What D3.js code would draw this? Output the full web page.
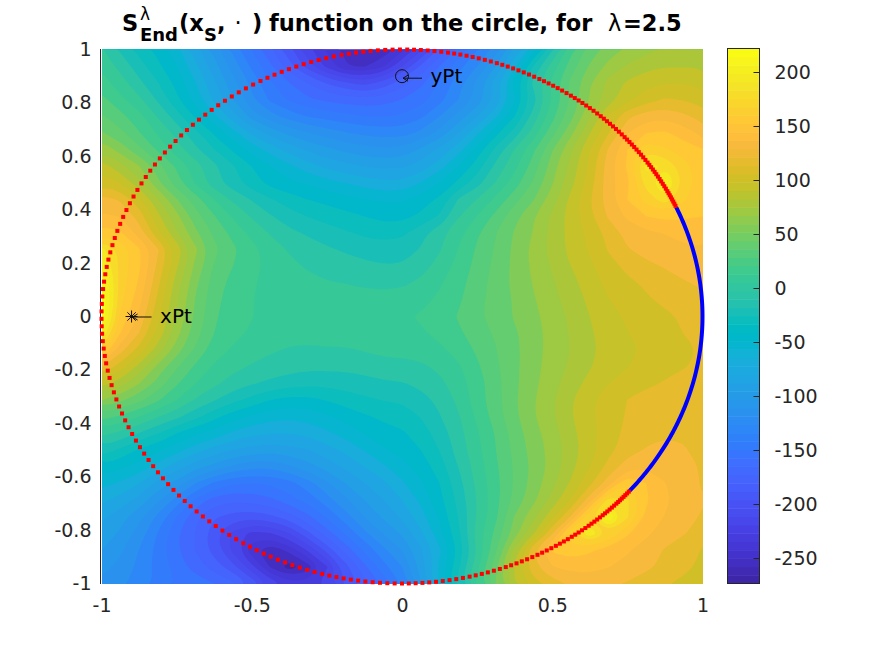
<!DOCTYPE html>
<html>
<head>
<meta charset="utf-8">
<script src="https://cdn.jsdelivr.net/npm/d3@7"></script>
<style>
  body { margin: 0; background: #fff; }
  text { font-family: "DejaVu Sans", sans-serif; }
</style>
</head>
<body>
<svg id="chart" width="875" height="656"></svg>
<script>
// tick labels
var xTicks = [-1, -0.5, 0, 0.5, 1];
var yTicks = [-1, -0.8, -0.6, -0.4, -0.2, 0, 0.2, 0.4, 0.6, 0.8, 1];
var barTicks = [-250, -200, -150, -100, -50, 0, 50, 100, 150, 200];
var barRange = [-273.6, 222];

// grid positions of the sampled field
var gridX = [-1, -0.9375, -0.875, -0.8125, -0.75, -0.6875, -0.625, -0.5625, -0.5, -0.4375, -0.375, -0.3125, -0.25, -0.1875, -0.125, -0.0625, 0,
    0.0625, 0.125, 0.1875, 0.25, 0.3125, 0.375, 0.4375, 0.5, 0.5625, 0.625, 0.6875, 0.75, 0.8125, 0.875, 0.9375, 1];
var gridY = gridX.slice().reverse();

// field values, top row first (y=1 down to y=-1)
var fieldRows = [
    [0,-15,-30,-42,-58,-82,-105,-128,-150,-172,-195,-220,-238,-252,-258,-258,-240,-215,-185,-160,-138,-118,-85,-55,-15,20,42,55,63,70,75,76,76],
    [10,-5,-20,-35,-50,-72,-95,-118,-140,-160,-182,-205,-228,-248,-250,-238,-212,-185,-162,-142,-125,-100,-65,-25,5,30,50,65,75,82,85,85,85],
    [17,5,-10,-25,-42,-62,-85,-108,-128,-148,-162,-175,-188,-198,-205,-195,-180,-165,-148,-130,-108,-80,-45,-10,15,40,60,78,88,95,98,98,95],
    [28,15,2,-15,-35,-55,-78,-100,-122,-140,-152,-160,-165,-168,-170,-168,-162,-155,-142,-125,-108,-85,-52,-18,12,38,62,80,95,105,112,110,106],
    [38,28,16,-2,-20,-40,-60,-82,-105,-120,-130,-138,-142,-146,-150,-150,-148,-140,-125,-108,-88,-65,-38,-8,20,45,72,100,120,130,132,126,118],
    [50,40,25,10,-5,-22,-40,-58,-78,-92,-104,-112,-118,-124,-128,-130,-130,-122,-108,-88,-65,-42,-20,5,32,58,85,110,135,148,150,142,132],
    [72,56,40,22,5,-10,-25,-40,-55,-68,-80,-90,-97,-103,-108,-110,-108,-98,-85,-68,-45,-22,0,22,48,72,98,125,148,170,162,155,148],
    [92,78,62,42,22,5,-10,-24,-38,-50,-60,-70,-78,-84,-88,-90,-90,-82,-68,-50,-32,-10,8,30,55,78,102,130,150,190,185,165,152],
    [108,98,78,52,30,10,-8,-20,-32,-42,-48,-52,-58,-63,-68,-72,-72,-62,-50,-35,-18,0,18,38,60,82,105,130,145,178,205,170,152],
    [128,122,102,75,50,30,12,-3,-14,-24,-32,-38,-42,-46,-50,-52,-52,-45,-35,-12,0,15,32,48,68,90,110,130,148,165,180,162,150],
    [138,135,118,90,65,42,25,10,-2,-12,-20,-26,-30,-34,-38,-42,-42,-35,-24,-2,12,28,45,60,76,92,108,125,138,148,152,150,148],
    [155,150,130,102,75,52,34,20,8,-2,-10,-15,-20,-24,-28,-30,-28,-18,-5,8,22,36,50,62,78,90,102,115,128,133,136,138,140],
    [190,170,150,125,95,64,40,27,16,6,-2,-7,-11,-15,-18,-20,-20,-12,-2,12,26,38,52,65,78,90,100,112,122,128,132,134,135],
    [205,168,150,120,88,58,35,24,15,8,2,-2,-5,-7,-10,-12,-12,-6,4,16,28,40,52,64,75,86,96,106,114,120,124,128,130],
    [218,168,146,114,80,52,30,20,13,8,4,2,0,-1,-3,-4,-3,2,10,20,30,42,52,62,72,82,92,102,108,113,118,122,125],
    [222,165,140,108,75,48,28,18,12,8,5,4,4,4,4,4,5,8,14,22,32,42,50,60,70,79,89,98,104,109,114,118,121],
    [222,158,133,102,72,46,26,17,12,9,7,6,7,8,9,9,10,13,18,25,34,42,50,58,67,76,86,95,100,104,108,113,117],
    [200,148,123,95,66,42,24,15,10,6,4,4,5,5,6,7,8,10,15,22,30,38,47,56,66,75,84,93,98,102,106,111,114],
    [165,128,106,80,55,34,18,10,5,1,-2,-3,-2,-2,0,3,3,5,9,16,26,36,46,56,66,74,83,91,96,100,104,108,112],
    [125,105,82,58,38,22,10,3,-2,-6,-8,-10,-10,-10,-8,-6,-5,-3,2,10,22,34,46,57,67,76,85,93,98,102,106,110,114],
    [92,80,62,44,26,12,2,-6,-12,-16,-20,-22,-22,-20,-18,-15,-14,-10,-4,6,18,32,46,58,69,80,90,98,104,108,112,116,118],
    [62,52,40,26,12,-2,-12,-22,-30,-38,-42,-42,-37,-32,-28,-25,-24,-18,-10,2,18,32,47,60,72,85,96,105,111,116,120,120,120],
    [30,22,12,0,-10,-22,-34,-45,-52,-58,-60,-58,-52,-46,-40,-35,-32,-25,-14,-2,14,30,46,60,72,85,96,105,112,117,120,121,120],
    [3,-4,-14,-25,-38,-48,-55,-65,-72,-75,-75,-72,-65,-58,-50,-44,-40,-32,-20,-6,10,25,42,56,68,82,94,105,114,120,122,122,120],
    [-18,-28,-40,-48,-58,-70,-80,-88,-92,-95,-92,-88,-80,-72,-62,-52,-46,-38,-25,-8,8,24,40,54,66,80,94,107,118,124,126,124,120],
    [-40,-48,-55,-68,-82,-95,-105,-115,-122,-122,-115,-105,-95,-85,-75,-65,-55,-45,-32,-13,5,22,38,52,66,82,98,115,130,134,132,128,122],
    [-58,-65,-75,-92,-105,-125,-140,-148,-150,-148,-142,-130,-115,-100,-88,-78,-65,-52,-38,-18,2,20,38,54,70,88,108,130,160,148,136,128,122],
    [-72,-80,-92,-110,-130,-152,-168,-172,-170,-165,-155,-145,-130,-115,-100,-88,-75,-60,-42,-22,0,20,40,58,78,100,130,178,175,150,138,130,124],
    [-85,-95,-108,-128,-150,-172,-185,-192,-195,-190,-180,-165,-148,-130,-112,-98,-85,-68,-48,-25,0,22,50,70,95,125,172,210,175,145,135,128,122],
    [-92,-102,-118,-138,-160,-175,-195,-215,-228,-225,-212,-190,-168,-148,-128,-112,-98,-78,-55,-28,5,28,55,85,122,170,195,172,150,138,130,124,118],
    [-100,-110,-125,-142,-160,-175,-192,-215,-245,-258,-245,-222,-195,-170,-148,-128,-112,-90,-65,-35,0,35,78,122,150,155,150,143,137,130,122,116,110],
    [-108,-116,-128,-142,-155,-168,-180,-195,-220,-250,-268,-255,-225,-192,-165,-142,-125,-95,-60,-28,8,45,88,120,135,140,140,136,132,126,120,114,108],
    [-115,-122,-130,-140,-150,-155,-162,-172,-190,-215,-232,-232,-218,-197,-178,-158,-135,-100,-60,-20,15,50,85,105,118,125,128,126,122,116,112,108,104]
];

// angles (degrees) of the red markers on the circle, and the ends of the blue arc
var redAngles = [24.5,25,25.5,26,26.5,27,27.5,28,28.6,29.2,29.8,30.4,31,31.6,32.2,32.8,33.4,34,34.6,35.2,35.9,36.6,37.3,38,38.7,39.4,40.1,40.8,41.5,42.2,43,43.8,44.6,45.4,46.2,47,47.8,48.6,49.5,50.4,51.3,52.2,53.1,54,54.9,55.8,56.8,57.8,58.8,59.8,60.8,61.8,62.8,63.9,65,66.1,67.2,68.3,69.4,70.5,71.6,72.8,74,75.2,76.4,77.6,78.8,80,81.2,82.5,83.8,85.1,86.4,87.7,89,90.4,
    91.8,93.2,94.6,96,97.4,98.8,100.2,101.6,103.1,104.6,106.1,107.6,109.1,110.6,112.1,113.6,115.1,116.6,118.1,119.7,121.3,122.9,124.5,126.1,127.7,129.3,130.9,132.5,134.1,135.7,137.3,138.9,140.5,142.1,143.7,145.3,146.9,148.5,150.1,151.7,153.3,154.9,156.5,158.1,159.7,161.3,162.9,164.5,166.1,167.7,169.3,170.9,172.5,174.1,175.7,177.3,178.9,
    180.5,182.1,183.7,185.3,186.9,188.5,190.1,191.7,193.3,194.9,196.5,198.1,199.7,201.3,202.9,204.5,206.1,207.7,209.3,210.9,212.5,214.1,215.7,217.3,218.9,220.5,222.1,223.7,225.3,226.9,228.5,230.1,231.7,233.3,234.9,236.5,238.1,239.6,241.1,242.6,244.1,245.6,247.1,248.6,250.1,251.6,253.1,254.6,256,257.4,258.8,260.2,261.6,263,264.4,265.8,267.2,268.6,270,
    271.3,272.6,273.9,275.2,276.5,277.8,279.1,280.4,281.7,283,284.2,285.4,286.6,287.8,289,290.2,291.3,292.4,293.5,294.6,295.7,296.8,297.8,298.8,299.8,300.8,301.7,302.6,303.5,304.4,305.2,306,306.8,307.6,308.4,309.1,309.8,310.5,311.2,311.9,312.5,313.1,313.7,314.3,314.9,315.5,316,316.5,317,317.5,318,318.5,319];
var blueArc = [-40.8, 24.5];
var xPt = [-0.9, 0];
var yPt = [0, 0.9];

// parula, 64 entries
var parula = [[.2422,.1504,.6603],[.2504,.1650,.7076],[.2578,.1818,.7511],[.2647,.1978,.7952],[.2706,.2147,.8364],[.2751,.2342,.8710],[.2783,.2559,.8991],[.2803,.2782,.9221],
    [.2813,.3006,.9414],[.2810,.3228,.9579],[.2795,.3447,.9717],[.2760,.3667,.9829],[.2699,.3892,.9906],[.2602,.4123,.9952],[.2440,.4358,.9988],[.2206,.4603,.9973],
    [.1963,.4847,.9892],[.1834,.5074,.9798],[.1786,.5289,.9682],[.1764,.5499,.9520],[.1687,.5703,.9359],[.1540,.5902,.9218],[.1460,.6091,.9079],[.1380,.6276,.8973],
    [.1248,.6459,.8883],[.1113,.6635,.8763],[.0952,.6798,.8598],[.0689,.6948,.8394],[.0297,.7082,.8163],[.0036,.7203,.7917],[.0067,.7312,.7660],[.0433,.7411,.7394],
    [.0964,.7500,.7120],[.1408,.7584,.6842],[.1717,.7670,.6554],[.1938,.7758,.6251],[.2161,.7843,.5923],[.2470,.7918,.5567],[.2906,.7973,.5188],[.3406,.8008,.4789],
    [.3909,.8029,.4354],[.4456,.8024,.3909],[.5044,.7993,.3480],[.5616,.7942,.3045],[.6174,.7876,.2612],[.6720,.7793,.2227],[.7242,.7698,.1910],[.7738,.7598,.1646],
    [.8203,.7498,.1535],[.8634,.7406,.1596],[.9035,.7330,.1774],[.9393,.7288,.2100],[.9728,.7298,.2394],[.9956,.7434,.2371],[.9970,.7659,.2199],[.9952,.7893,.2028],
    [.9892,.8136,.1885],[.9786,.8386,.1766],[.9676,.8639,.1643],[.9610,.8890,.1537],[.9597,.9135,.1423],[.9628,.9373,.1265],[.9691,.9606,.1064],[.9769,.9839,.0805]]
    .map(function (c) { return d3.rgb(c[0] * 255, c[1] * 255, c[2] * 255).formatHex(); });

var svg = d3.select("#chart");

// plot area
var left = 101.5, right = 702.5, top_ = 49.5, bottom = 583.5;
var x = d3.scaleLinear().domain([-1, 1]).range([left, right]);
var y = d3.scaleLinear().domain([-1, 1]).range([bottom, top_]);
var color = d3.scaleQuantize().domain(barRange).range(parula);

svg.append("defs").append("clipPath").attr("id", "plotClip")
    .append("rect")
    .attr("x", left + 0.5).attr("y", top_)
    .attr("width", right - left).attr("height", bottom - top_ + 0.5);

// contourf: one filled band per threshold, nested from low to high
var nx = gridX.length, ny = gridY.length;
var values = d3.merge(fieldRows);
var levelStep = 12.4;
var thresholds = d3.range(barRange[0], barRange[1], levelStep);
var contours = d3.contours().size([nx, ny]).thresholds(thresholds)(values);

var gx = d3.scaleLinear().domain([0.5, nx - 0.5]).range([x(gridX[0]), x(gridX[nx - 1])]);
var gy = d3.scaleLinear().domain([0.5, ny - 0.5]).range([y(gridY[0]), y(gridY[ny - 1])]);

// round the contour rings so the coarse grid does not show as facets
var ringLine = d3.line()
    .x(function (p) { return gx(p[0]); })
    .y(function (p) { return gy(p[1]); })
    .curve(d3.curveBasisClosed);

function bandPath(d) {
    var out = "";
    d.coordinates.forEach(function (polygon) {
        polygon.forEach(function (ring) {
            out += ringLine(ring.slice(0, -1));
        });
    });
    return out;
}

var plot = svg.append("g").attr("clip-path", "url(#plotClip)");
plot.selectAll("path.band")
    .data(contours)
    .enter().append("path")
    .attr("class", "band")
    .attr("d", bandPath)
    .attr("fill-rule", "evenodd")
    .attr("fill", function (d) { return color(d.value + levelStep / 2); });

// left axis line only, the image hides the others
svg.append("line")
    .attr("x1", 100.5).attr("x2", 100.5)
    .attr("y1", top_ - 0.5).attr("y2", bottom + 0.5)
    .attr("stroke", "#262626").attr("stroke-width", 1);

var xAxis = d3.axisBottom(x).tickValues(xTicks).tickSize(0).tickPadding(15).tickFormat(function (d) { return d; });
var yAxis = d3.axisLeft(y).tickValues(yTicks).tickSize(0).tickPadding(10).tickFormat(function (d) { return d; });

svg.append("g").attr("transform", "translate(0," + bottom + ")").call(xAxis)
    .call(function (g) { g.select(".domain").remove(); });
svg.append("g").attr("transform", "translate(" + left + ",0)").call(yAxis)
    .call(function (g) { g.select(".domain").remove(); });

// circle: blue arc then red markers
var deg = Math.PI / 180;
var circleX = function (a) { return x(Math.cos(a * deg)); };
var circleY = function (a) { return y(Math.sin(a * deg)); };

svg.append("path")
    .datum(d3.range(blueArc[0], blueArc[1] + 0.1, 0.5))
    .attr("d", d3.line().x(circleX).y(circleY))
    .attr("fill", "none")
    .attr("stroke", "#0000ff")
    .attr("stroke-width", 4);

svg.selectAll("rect.dot")
    .data(redAngles)
    .enter().append("rect")
    .attr("class", "dot")
    .attr("x", function (d) { return circleX(d) - 2; })
    .attr("y", function (d) { return circleY(d) - 2; })
    .attr("width", 4)
    .attr("height", 4)
    .attr("fill", "#ff0000");

// point labels
function annotate(pt, name, marker, lineDy) {
    var px = x(pt[0]), py = y(pt[1]);
    var g = svg.append("g").attr("stroke", "#111").attr("fill", "none").attr("stroke-width", 1);
    if (marker === "star") {
        [[-6, 0, 6, 0], [0, -6, 0, 6], [-4.2, -4.2, 4.2, 4.2], [-4.2, 4.2, 4.2, -4.2]].forEach(function (s) {
            g.append("line").attr("x1", px + s[0]).attr("y1", py + s[1]).attr("x2", px + s[2]).attr("y2", py + s[3]);
        });
    } else {
        g.append("circle").attr("cx", px).attr("cy", py).attr("r", 6.5);
    }
    var ly = py + lineDy;
    g.append("line").attr("x1", px + 20).attr("y1", ly).attr("x2", px + 1).attr("y2", ly);
    g.append("path").attr("d", "M" + (px + 6) + "," + (ly - 3) + "L" + (px + 1) + "," + ly + "L" + (px + 6) + "," + (ly + 3));
    svg.append("text").attr("x", px + 28.5).attr("y", py + 6.5)
        .attr("font-size", 20).attr("fill", "#000").text(name);
}
annotate(xPt, "xPt", "star", 0.5);
annotate(yPt, "yPt", "circle", 2);

// colorbar
var barLeft = 727.5, barRight = 759.5;
var barY = d3.scaleLinear().domain(barRange).range([bottom, top_ - 1]);
var barCells = d3.range(parula.length);
var cellH = (bottom - top_ + 1) / parula.length;
svg.selectAll("rect.cell")
    .data(barCells)
    .enter().append("rect")
    .attr("class", "cell")
    .attr("x", barLeft)
    .attr("y", function (d) { return bottom - (d + 1) * cellH; })
    .attr("width", barRight - barLeft)
    .attr("height", cellH + 0.5)
    .attr("fill", function (d) { return parula[d]; });
svg.append("rect")
    .attr("x", barLeft).attr("y", top_ - 1)
    .attr("width", barRight - barLeft).attr("height", bottom - top_ + 1)
    .attr("fill", "none").attr("stroke", "#262626").attr("stroke-width", 1);

var barAxis = d3.axisRight(barY).tickValues(barTicks).tickSize(0).tickPadding(15).tickFormat(function (d) { return d; });
svg.append("g").attr("transform", "translate(" + barRight + ",0)").call(barAxis)
    .call(function (g) { g.select(".domain").remove(); });
svg.selectAll("line.barTick")
    .data(barTicks)
    .enter().append("line")
    .attr("class", "barTick")
    .attr("x1", barRight - 6).attr("x2", barRight)
    .attr("y1", function (d) { return Math.round(barY(d)) + 0.5; })
    .attr("y2", function (d) { return Math.round(barY(d)) + 0.5; })
    .attr("stroke", "#262626").attr("stroke-width", 1);

svg.selectAll(".tick text")
    .attr("font-family", "DejaVu Sans")
    .attr("font-size", 19)
    .attr("fill", "#262626");

// title is put together piece by piece because of the super and subscripts
var titleParts = [
    { t: "S", x: 122, y: 31, size: 22.5, bold: true },
    { t: "\u03bb", x: 140, y: 20, size: 17, bold: false },
    { t: "End", x: 140, y: 41, size: 18, bold: true },
    { t: "(x", x: 179, y: 31, size: 22.5, bold: true },
    { t: "S", x: 204, y: 41, size: 18, bold: true },
    { t: ",", x: 217, y: 31, size: 22.5, bold: true },
    { t: "\u00b7", x: 234.5, y: 31, size: 22.5, bold: false },
    { t: ")", x: 252, y: 31, size: 22.5, bold: true },
    { t: "function on the circle, for", x: 269, y: 31, size: 22.5, bold: true },
    { t: "\u03bb", x: 608, y: 31, size: 22.5, bold: false },
    { t: "=2.5", x: 623, y: 31, size: 22.5, bold: true }
];
svg.selectAll("text.title")
    .data(titleParts)
    .enter().append("text")
    .attr("class", "title")
    .attr("x", function (d) { return d.x; })
    .attr("y", function (d) { return d.y; })
    .attr("font-size", function (d) { return d.size; })
    .attr("font-weight", function (d) { return d.bold ? "bold" : "normal"; })
    .attr("fill", "#000")
    .text(function (d) { return d.t; });
</script>
</body>
</html>
